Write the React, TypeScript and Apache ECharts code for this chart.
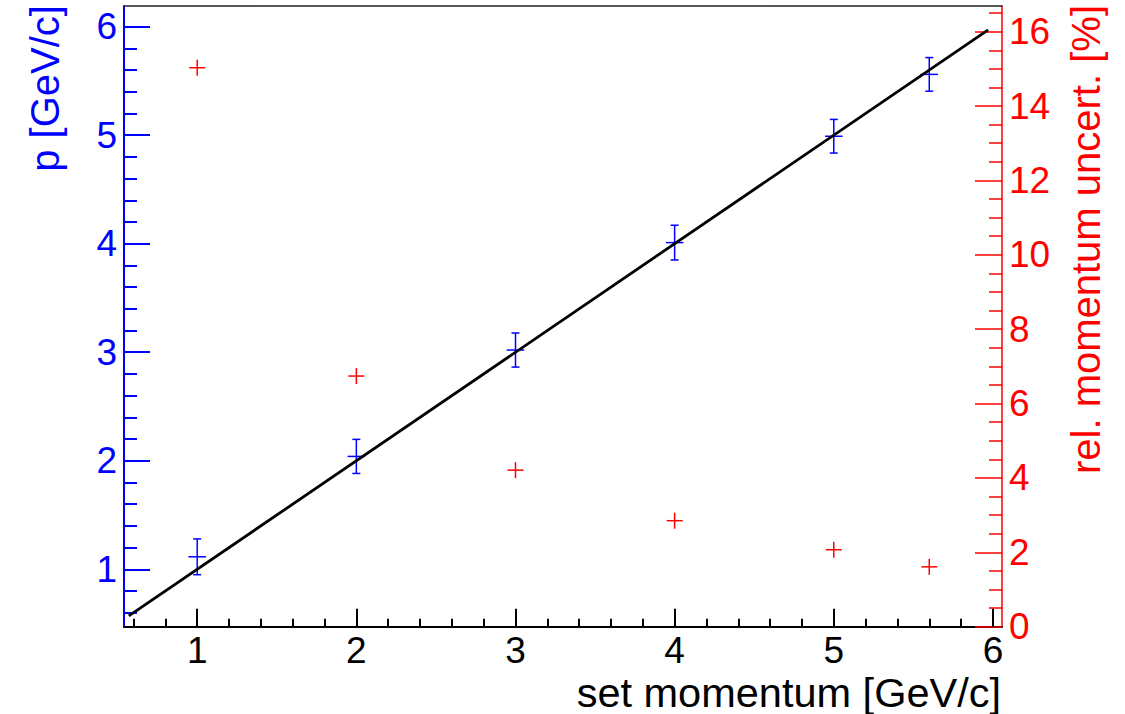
import React, { useEffect, useRef } from "react";
import * as echarts from "echarts";

// ---- data ----
const setMomentum = [1, 2, 3, 4, 5, 5.6];
const measuredP = [1.115, 2.04, 3.02, 4.01, 4.99, 5.56];
const measuredPErr = [0.165, 0.157, 0.157, 0.16, 0.155, 0.155];
const setMomentumErr = [0.055, 0.055, 0.055, 0.055, 0.055, 0.055];
const relUncert = [15.03, 6.74, 4.21, 2.85, 2.07, 1.61];
const fitX = [0.57, 5.97];
const fitY = [0.57, 5.97];

// ---- axes ----
const xRange = [0.54, 6.057];
const pRange = [0.471, 6.19];
const uRange = [0, 16.69];

const xMajorTicks = [1, 2, 3, 4, 5, 6];
const xMinorTicks = [
  0.6, 0.8, 1.2, 1.4, 1.6, 1.8, 2.2, 2.4, 2.6, 2.8, 3.2, 3.4, 3.6, 3.8,
  4.2, 4.4, 4.6, 4.8, 5.2, 5.4, 5.6, 5.8,
];
const pMajorTicks = [1, 2, 3, 4, 5, 6];
const pMinorTicks = [
  0.6, 0.8, 1.2, 1.4, 1.6, 1.8, 2.2, 2.4, 2.6, 2.8, 3.2, 3.4, 3.6, 3.8,
  4.2, 4.4, 4.6, 4.8, 5.2, 5.4, 5.6, 5.8,
];
const uMajorTicks = [0, 2, 4, 6, 8, 10, 12, 14, 16];
const uMinorTicks = [
  0.5, 1, 1.5, 2.5, 3, 3.5, 4.5, 5, 5.5, 6.5, 7, 7.5, 8.5, 9, 9.5, 10.5, 11,
  11.5, 12.5, 13, 13.5, 14.5, 15, 15.5, 16.5,
];

const xTitle = "set momentum [GeV/c]";
const pTitle = "p [GeV/c]";
const uTitle = "rel. momentum uncert. [%]";

const FONT = "'Liberation Sans', Arial, Helvetica, sans-serif";
const BLUE = "#0000ff";
const RED = "#ff0000";

export default function App() {
  const ref = useRef<HTMLDivElement>(null);

  useEffect(() => {
    if (!ref.current) return;
    const chart = echarts.init(ref.current, null, { renderer: "svg" });

    const pData = setMomentum.map((x, i) => [x, measuredP[i], measuredPErr[i], setMomentumErr[i]]);
    const uData = setMomentum.map((x, i) => [x, relUncert[i]]);
    const fitData = fitX.map((x, i) => [x, fitY[i]]);

    const yBase = (min: number, max: number, position: string) => ({
      type: "value",
      min,
      max,
      position,
      splitLine: { show: false },
      axisLine: { show: false },
      axisTick: { show: false },
      axisLabel: { show: false },
    });

    const option: any = {
      animation: false,
      backgroundColor: "#ffffff",
      grid: {
        left: 124,
        top: 6,
        right: 123,
        bottom: 87.3,
        containLabel: false,
        outerBoundsMode: "none",
      },
      xAxis: [
        {
          type: "value",
          min: xRange[0],
          max: xRange[1],
          position: "bottom",
          splitLine: { show: false },
          axisLine: { show: true, onZero: false, lineStyle: { color: "#000", width: 2 } },
          axisTick: {
            show: true,
            inside: true,
            length: 18,
            customValues: xMajorTicks,
            lineStyle: { color: "#000", width: 2 },
          },
          axisLabel: {
            show: true,
            customValues: xMajorTicks,
            margin: 5,
            color: "#000",
            fontSize: 37,
            fontFamily: FONT,
          },
        },
        {
          type: "value",
          min: xRange[0],
          max: xRange[1],
          position: "bottom",
          splitLine: { show: false },
          axisLine: { show: false },
          axisTick: {
            show: true,
            inside: true,
            length: 8,
            customValues: xMinorTicks,
            lineStyle: { color: "#000", width: 2 },
          },
          axisLabel: { show: false },
        },
        {
          type: "value",
          min: xRange[0],
          max: xRange[1],
          position: "top",
          splitLine: { show: false },
          axisLine: { show: true, onZero: false, lineStyle: { color: "#222", width: 1.5 } },
          axisTick: { show: false },
          axisLabel: { show: false },
        },
      ],
      yAxis: [
        {
          ...yBase(pRange[0], pRange[1], "left"),
          axisLine: { show: true, onZero: false, lineStyle: { color: BLUE, width: 2 } },
          axisTick: {
            show: true,
            inside: true,
            length: 26,
            customValues: pMajorTicks,
            lineStyle: { color: BLUE, width: 2 },
          },
          axisLabel: {
            show: true,
            customValues: pMajorTicks,
            margin: 7,
            color: BLUE,
            fontSize: 37,
            fontFamily: FONT,
          },
        },
        {
          ...yBase(pRange[0], pRange[1], "left"),
          axisTick: {
            show: true,
            inside: true,
            length: 13,
            customValues: pMinorTicks,
            lineStyle: { color: BLUE, width: 2 },
          },
        },
        {
          ...yBase(uRange[0], uRange[1], "right"),
          axisLine: { show: true, onZero: false, lineStyle: { color: RED, width: 1.5 } },
          axisTick: {
            show: true,
            inside: true,
            length: 27,
            customValues: uMajorTicks,
            lineStyle: { color: RED, width: 1.5 },
          },
          axisLabel: {
            show: true,
            customValues: uMajorTicks,
            margin: 7,
            color: RED,
            fontSize: 37,
            fontFamily: FONT,
          },
        },
        {
          ...yBase(uRange[0], uRange[1], "right"),
          axisTick: {
            show: true,
            inside: true,
            length: 13,
            customValues: uMinorTicks,
            lineStyle: { color: RED, width: 1.5 },
          },
        },
      ],
      series: [
        {
          type: "custom",
          name: "p",
          xAxisIndex: 0,
          yAxisIndex: 0,
          data: pData,
          z: 3,
          renderItem: (params: any, api: any) => {
            const x = api.value(0);
            const y = api.value(1);
            const ey = api.value(2);
            const ex = api.value(3);
            const top = api.coord([x, y + ey]);
            const bot = api.coord([x, y - ey]);
            const l = api.coord([x - ex, y]);
            const r = api.coord([x + ex, y]);
            const cap = 4;
            const st = { stroke: BLUE, lineWidth: 1.5 };
            return {
              type: "group",
              children: [
                { type: "line", shape: { x1: top[0], y1: top[1], x2: bot[0], y2: bot[1] }, style: st },
                { type: "line", shape: { x1: top[0] - cap, y1: top[1], x2: top[0] + cap, y2: top[1] }, style: st },
                { type: "line", shape: { x1: bot[0] - cap, y1: bot[1], x2: bot[0] + cap, y2: bot[1] }, style: st },
                { type: "line", shape: { x1: l[0], y1: l[1], x2: r[0], y2: r[1] }, style: st },
              ],
            };
          },
        },
        {
          type: "custom",
          name: "uncert",
          xAxisIndex: 0,
          yAxisIndex: 2,
          data: uData,
          z: 3,
          renderItem: (params: any, api: any) => {
            const c = api.coord([api.value(0), api.value(1)]);
            const h = 8;
            const st = { stroke: RED, lineWidth: 1.5 };
            return {
              type: "group",
              children: [
                { type: "line", shape: { x1: c[0] - h, y1: c[1], x2: c[0] + h, y2: c[1] }, style: st },
                { type: "line", shape: { x1: c[0], y1: c[1] - h, x2: c[0], y2: c[1] + h }, style: st },
              ],
            };
          },
        },
        {
          type: "line",
          name: "fit",
          xAxisIndex: 0,
          yAxisIndex: 0,
          data: fitData,
          showSymbol: false,
          symbol: "none",
          z: 4,
          lineStyle: { color: "#000", width: 2.8 },
        },
      ],
      graphic: [
        {
          type: "text",
          x: 1001,
          y: 692,
          style: {
            text: xTitle,
            fill: "#000",
            fontSize: 41.5,
            fontFamily: FONT,
            align: "right",
            verticalAlign: "middle",
          },
        },
        {
          type: "text",
          x: 45,
          y: 5,
          rotation: Math.PI / 2,
          style: {
            text: pTitle,
            fill: BLUE,
            fontSize: 40,
            fontFamily: FONT,
            align: "right",
            verticalAlign: "middle",
          },
        },
        {
          type: "text",
          x: 1086,
          y: 5,
          rotation: Math.PI / 2,
          style: {
            text: uTitle,
            fill: RED,
            fontSize: 40,
            fontFamily: FONT,
            align: "right",
            verticalAlign: "middle",
          },
        },
      ],
    };

    chart.setOption(option);
    return () => chart.dispose();
  }, []);

  return (
    <div
      ref={ref}
      style={{ position: "fixed", left: 0, top: 0, width: 1125, height: 714, background: "#fff" }}
    />
  );
}
